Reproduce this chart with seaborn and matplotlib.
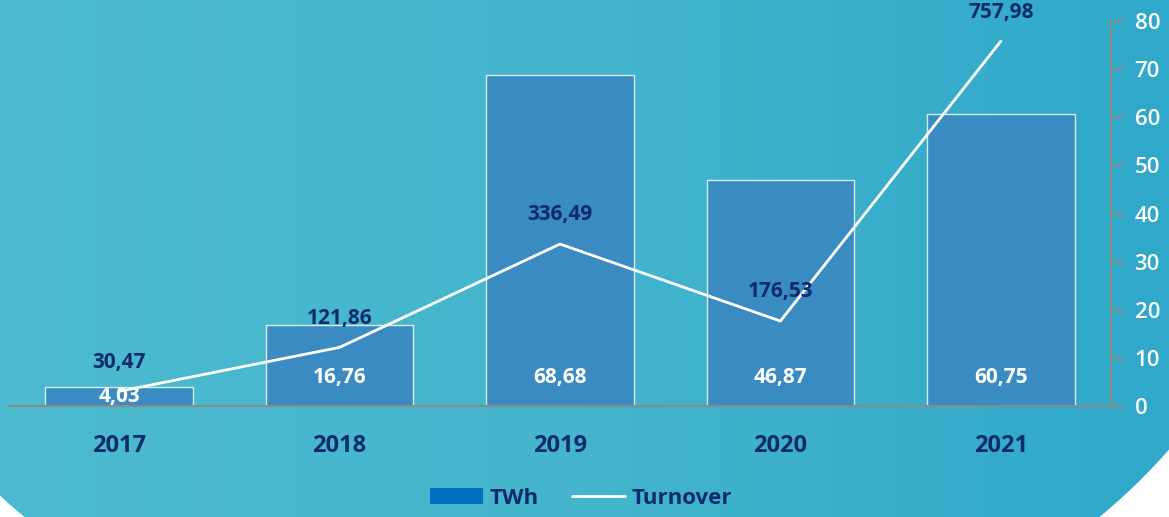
import numpy as np
import pandas as pd
import matplotlib.pyplot as plt
import seaborn as sns
from matplotlib.patches import Ellipse, Patch
from matplotlib.lines import Line2D
import matplotlib.colors as mcolors

# Data
years = ["2017", "2018", "2019", "2020", "2021"]
twh = [4.03, 16.76, 68.68, 46.87, 60.75]
turnover = [30.47, 121.86, 336.49, 176.53, 757.98]

navy = "#0d2b6b"
bar_col = "#3a8bc1"
sns.set_theme(style="white")
plt.rcParams['font.family'] = ['Open Sans', 'DejaVu Sans']

W, H = 1169, 517
fig = plt.figure(figsize=(W / 100, H / 100), dpi=100, facecolor="white")

# Background: teal gradient clipped to a big ellipse
bg = fig.add_axes([0, 0, 1, 1])
bg.set_xlim(0, W)
bg.set_ylim(H, 0)
bg.axis("off")
cmap = mcolors.LinearSegmentedColormap.from_list("bg", ["#4cbbcf", "#44b5cd", "#2fa8c9"])
grad = np.tile(np.linspace(0, 1, 256), (10, 1))
img = bg.imshow(grad, cmap=cmap, extent=[0, W, H, 0], aspect="auto")
ell = Ellipse((562, 150), 2 * 726, 2 * 546, transform=bg.transData, facecolor="none", edgecolor="none")
bg.add_patch(ell)
img.set_clip_path(ell)

# Main chart
ax = fig.add_axes([9 / W, (H - 406) / H, (1111 - 9) / W, (406 - 21) / H])
ax.patch.set_alpha(0)
df = pd.DataFrame({"year": years, "twh": twh, "turnover": turnover})
sns.barplot(data=df, x="year", y="twh", color=bar_col, width=0.67,
            edgecolor="#d6ecf3", linewidth=1, saturation=1, ax=ax)
sns.lineplot(x=np.arange(len(years)), y=df["turnover"] / 10, color="white",
             linewidth=2, ax=ax)

ax.set_xlim(-0.5, len(years) - 0.5)
ax.set_ylim(0, 80)
ax.set_xlabel("")
ax.set_ylabel("")
ax.yaxis.tick_right()
ax.set_yticks(range(0, 81, 10))
ax.tick_params(axis="y", right=True, length=9, width=1.5, color="#8a8a8a",
               labelcolor="white", labelsize=16, pad=8)
ax.tick_params(axis="x", bottom=False, labelsize=17, labelcolor=navy, pad=14)
for lab in ax.get_xticklabels():
    lab.set_fontweight("bold")
for lab in ax.get_yticklabels():
    lab.set_fontweight("semibold")
for s in ["top", "left"]:
    ax.spines[s].set_visible(False)
for s in ["right", "bottom"]:
    ax.spines[s].set_color("#8a8a8a")
    ax.spines[s].set_linewidth(1.5)

# Labels
for i, (v, t) in enumerate(zip(twh, turnover)):
    ax.text(i, min(6, v / 2), f"{v:.2f}".replace(".", ","), ha="center", va="center",
            color="white", fontsize=15, fontweight="bold")
    ax.annotate(f"{t:.2f}".replace(".", ","), (i, t / 10), xytext=(0, 21),
                textcoords="offset points", ha="center", va="center",
                color=navy, fontsize=15, fontweight="bold", annotation_clip=False)

# Legend
handles = [Patch(facecolor="#0070c0", edgecolor="none"),
           Line2D([0], [0], color="white", linewidth=2)]
fig.legend(handles, ["TWh", "Turnover"], loc="center", ncol=2,
           bbox_to_anchor=(0.497, (H - 498) / H), frameon=False,
           handlelength=2.4, handleheight=0.7, handletextpad=0.3,
           columnspacing=1.5, prop={"size": 16, "weight": "bold"}, labelcolor=navy)

fig.savefig("out.png", dpi=100, facecolor="white")
